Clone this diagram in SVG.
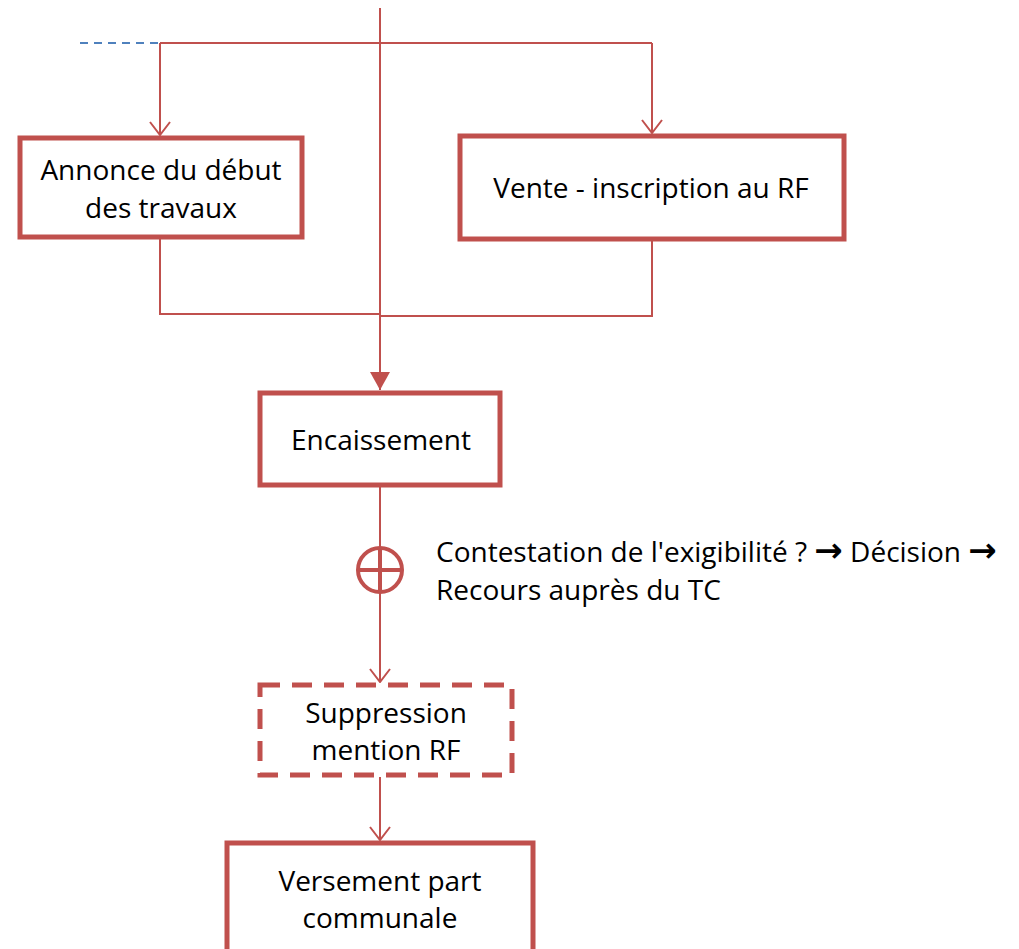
<svg xmlns="http://www.w3.org/2000/svg" width="1019" height="949" viewBox="0 0 1019 949">
<style>
.box{fill:#fff;stroke:#C0504D;stroke-width:5}
.dash{stroke-dasharray:20 12}
.ln{fill:none;stroke:#C0504D;stroke-width:2}
.t{font-family:"Open Sans","Liberation Sans",sans-serif;font-size:28px;fill:#000;text-anchor:middle}
.lbl{font-family:"Open Sans","Liberation Sans",sans-serif;font-size:28px;fill:#000}
.ar{font-family:"DejaVu Sans",sans-serif;font-size:34px;font-weight:bold}
</style>
<defs>
<marker id="open" viewBox="0 0 15 22" refX="14" refY="11" markerWidth="15" markerHeight="22" markerUnits="userSpaceOnUse" orient="auto">
<path d="M1,1 L14,11 L1,21" fill="none" stroke="#C0504D" stroke-width="2"/>
</marker>
<marker id="fill" viewBox="0 0 18 20" refX="18" refY="10" markerWidth="18" markerHeight="20" markerUnits="userSpaceOnUse" orient="auto">
<path d="M0,0 L18,10 L0,20 Z" fill="#C0504D"/>
</marker>
</defs>
<g id="connectors">
<line x1="80" y1="43" x2="160" y2="43" stroke="#4F81BD" stroke-width="2" stroke-dasharray="8 6"/>
<line class="ln" x1="160" y1="43" x2="652" y2="43"/>
<path class="ln" d="M160,43 V135" marker-end="url(#open)"/>
<path class="ln" d="M652,43 V133" marker-end="url(#open)"/>
<path class="ln" d="M160,238 V314 H380"/>
<path class="ln" d="M652,241 V316 H380"/>
<path class="ln" d="M380,8 V390" marker-end="url(#fill)"/>
<path class="ln" d="M380,487 V682" marker-end="url(#open)"/>
<path class="ln" d="M380,777 V840" marker-end="url(#open)"/>
<g id="junction">
<circle cx="380" cy="570" r="22" fill="#fff" stroke="#C0504D" stroke-width="4"/>
<line x1="358" y1="570" x2="402" y2="570" stroke="#C0504D" stroke-width="4"/>
<line x1="380" y1="548" x2="380" y2="592" stroke="#C0504D" stroke-width="4"/>
</g>
</g>
<g id="annonce">
<rect class="box" x="20" y="138" width="282" height="99"/>
<text class="t" x="161" y="180">Annonce du début</text>
<text class="t" x="161" y="218">des travaux</text>
</g>
<g id="vente">
<rect class="box" x="460" y="136" width="384" height="103"/>
<text class="t" x="651" y="198">Vente - inscription au RF</text>
</g>
<g id="encaissement">
<rect class="box" x="260" y="393" width="240" height="92"/>
<text class="t" x="381" y="450">Encaissement</text>
</g>
<g id="label">
<text class="lbl" x="436" y="562">Contestation de l'exigibilité ? <tspan class="ar">→</tspan> Décision <tspan class="ar">→</tspan></text>
<text class="lbl" x="436" y="600">Recours auprès du TC</text>
</g>
<g id="suppression">
<rect class="box dash" x="260" y="685" width="252" height="90"/>
<text class="t" x="386" y="723">Suppression</text>
<text class="t" x="386" y="760">mention RF</text>
</g>
<g id="versement">
<rect class="box" x="227" y="843" width="306" height="120"/>
<text class="t" x="380" y="891">Versement part</text>
<text class="t" x="380" y="928">communale</text>
</g>
</svg>
